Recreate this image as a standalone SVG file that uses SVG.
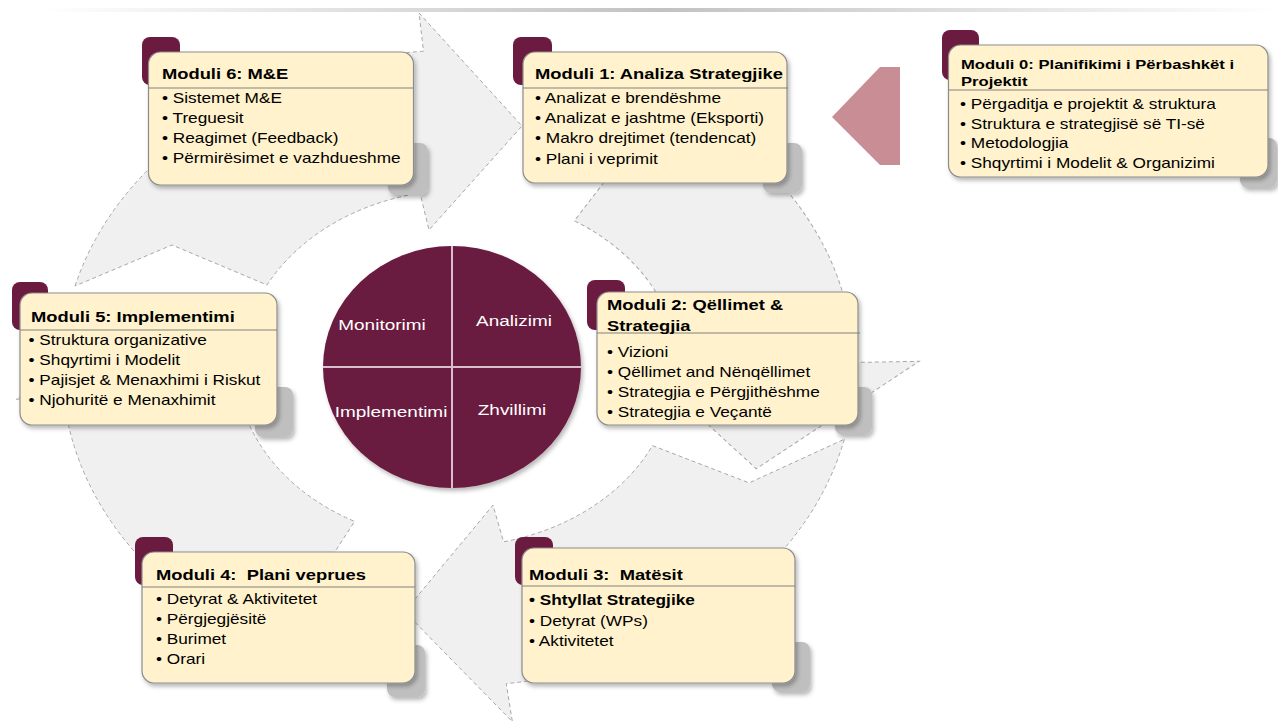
<svg xmlns="http://www.w3.org/2000/svg" width="1278" height="726" viewBox="0 0 1278 726">
<defs>
  <linearGradient id="topline" gradientUnits="userSpaceOnUse" x1="40" y1="0" x2="1278" y2="0">
    <stop offset="0" stop-color="#ffffff"/>
    <stop offset="0.5" stop-color="#c2c2c2"/>
    <stop offset="1" stop-color="#ffffff"/>
  </linearGradient>
  <filter id="sh" x="-10%" y="-10%" width="130%" height="140%">
    <feDropShadow dx="2" dy="3" stdDeviation="2" flood-color="#000" flood-opacity="0.28"/>
  </filter>
  <path id="arc" d="M-307.6,-82 A318,318 0 0 1 -27.7,-316.8 L-31.3,-355 L51.4,-242 L-23.3,-138 L-30.5,-175 A178,178 0 0 0 -153.4,-83 L-229.7,-123 Z" fill="#f0f0f0" stroke="#a8a8a8" stroke-width="1" stroke-dasharray="4 3" vector-effect="non-scaling-stroke"/>
  <path id="arcB" d="M-307.6,-82 A318,318 0 0 1 -27.7,-316.8 L-32.5,-369 L83.8,-246 L-23.3,-138 L-30.5,-175 A178,178 0 0 0 -153.4,-83 L-229.7,-123 Z" fill="#f0f0f0" stroke="#a8a8a8" stroke-width="1" stroke-dasharray="4 3" vector-effect="non-scaling-stroke"/>
</defs>
<style>
  .box{fill:#fff2cc;stroke:#8c8c8c;stroke-width:1.2}
  .tab{fill:#6b1a40}
  .gs{fill:#bfbfbf}
  .div{stroke:#808080;stroke-width:1.2}
  .t{font-family:"Liberation Sans",Arial,sans-serif;font-size:14.8px;font-weight:bold;fill:#000}
  .t0{font-family:"Liberation Sans",Arial,sans-serif;font-size:13.4px;font-weight:bold;fill:#000}
  .b{font-family:"Liberation Sans",Arial,sans-serif;font-size:13.9px;fill:#000}
  .bb{font-weight:bold}
  .c{font-family:"Liberation Sans",Arial,sans-serif;font-size:15.3px;fill:#fff;text-anchor:middle}
</style>
<rect width="1278" height="726" fill="#ffffff"/>
<rect x="40" y="8" width="1238" height="4" fill="url(#topline)"/>

<g id="connectors">
  <g transform="translate(458,368) scale(1.245,1)">
    <use href="#arc"/>
    <use href="#arcB" transform="rotate(94)"/>
    <use href="#arc" transform="rotate(178)"/>
    <use href="#arc" transform="rotate(270)"/>
  </g>
  <polygon points="832,117 880,67 900,67 900,165 880,165" fill="#c98d95"/>
</g>

<g id="center">
  <ellipse cx="452" cy="367" rx="129" ry="121" fill="#6a1a40" filter="url(#sh)"/>
  <line x1="452" y1="246" x2="452" y2="488" stroke="#d9bfcb" stroke-width="2"/>
  <line x1="323" y1="367" x2="581" y2="367" stroke="#d9bfcb" stroke-width="2"/>
  <g transform="translate(382,0) scale(1.24,1)"><text class="c" x="0" y="330">Monitorimi</text></g>
  <g transform="translate(514,0) scale(1.24,1)"><text class="c" x="0" y="326">Analizimi</text></g>
  <g transform="translate(391,0) scale(1.24,1)"><text class="c" x="0" y="417">Implementimi</text></g>
  <g transform="translate(512,0) scale(1.24,1)"><text class="c" x="0" y="415">Zhvillimi</text></g>
</g>

<g id="m6">
  <rect class="tab" x="142" y="37" width="38" height="48" rx="8"/>
  <rect class="gs" x="388" y="143" width="40" height="52" rx="8" filter="url(#sh)"/>
  <rect class="box" x="148.5" y="52" width="265" height="133" rx="12" filter="url(#sh)"/>
  <line class="div" x1="148.5" y1="88" x2="413.5" y2="88"/>
  <g transform="translate(162,0) scale(1.24,1)">
    <text class="t" x="0" y="79">Moduli 6: M&amp;E</text>
    <text class="b" x="0" y="103.5">• Sistemet M&amp;E</text>
    <text class="b" x="0" y="123.5">• Treguesit</text>
    <text class="b" x="0" y="143.5">• Reagimet (Feedback)</text>
    <text class="b" x="0" y="163.5">• Përmirësimet e vazhdueshme</text>
  </g>
</g>

<g id="m1">
  <rect class="tab" x="513" y="37" width="39" height="48" rx="8"/>
  <rect class="gs" x="763" y="143" width="39" height="50" rx="8" filter="url(#sh)"/>
  <rect class="box" x="523" y="52" width="264" height="131" rx="12" filter="url(#sh)"/>
  <line class="div" x1="523" y1="88" x2="788" y2="88"/>
  <g transform="translate(535,0) scale(1.24,1)">
    <text class="t" x="0" y="79">Moduli 1: Analiza Strategjike</text>
    <text class="b" x="0" y="103">• Analizat e brendëshme</text>
    <text class="b" x="0" y="123">• Analizat e jashtme (Eksporti)</text>
    <text class="b" x="0" y="143.5">• Makro drejtimet (tendencat)</text>
    <text class="b" x="0" y="164">• Plani i veprimit</text>
  </g>
</g>

<g id="m0">
  <rect class="tab" x="942" y="30" width="37" height="50" rx="8"/>
  <rect class="gs" x="1240" y="138" width="37" height="50" rx="8" filter="url(#sh)"/>
  <rect class="box" x="948.5" y="45" width="319.5" height="132" rx="12" filter="url(#sh)"/>
  <line class="div" x1="948.5" y1="90" x2="1268" y2="90"/>
  <g transform="translate(961,0) scale(1.24,1)">
    <text class="t0" x="0" y="69.5">Moduli 0: Planifikimi i Përbashkët i</text>
    <text class="t0" x="0" y="86">Projektit</text>
  </g>
  <g transform="translate(960,0) scale(1.24,1)">
    <text class="b" x="0" y="109.5">• Përgaditja e projektit &amp; struktura</text>
    <text class="b" x="0" y="129">• Struktura e strategjisë së TI-së</text>
    <text class="b" x="0" y="148.5">• Metodologjia</text>
    <text class="b" x="0" y="168">• Shqyrtimi i Modelit &amp; Organizimi</text>
  </g>
</g>

<g id="m5">
  <rect class="tab" x="12" y="282" width="36" height="48" rx="8"/>
  <rect class="gs" x="255" y="387" width="38" height="50" rx="8" filter="url(#sh)"/>
  <rect class="box" x="20" y="293" width="257" height="132" rx="12" filter="url(#sh)"/>
  <line class="div" x1="20" y1="330" x2="277" y2="330"/>
  <g transform="translate(31,0) scale(1.24,1)">
    <text class="t" x="0" y="322">Moduli 5: Implementimi</text>
    <text class="b" x="-2" y="345.5">• Struktura organizative</text>
    <text class="b" x="-2" y="365.5">• Shqyrtimi i Modelit</text>
    <text class="b" x="-2" y="385.5">• Pajisjet &amp; Menaxhimi i Riskut</text>
    <text class="b" x="-2" y="405.5">• Njohuritë e Menaxhimit</text>
  </g>
</g>

<g id="m2">
  <rect class="tab" x="587" y="280" width="38" height="50" rx="8"/>
  <rect class="gs" x="835" y="387" width="37" height="48" rx="8" filter="url(#sh)"/>
  <rect class="box" x="597" y="292" width="261" height="133" rx="12" filter="url(#sh)"/>
  <line class="div" x1="597" y1="333" x2="860" y2="333"/>
  <g transform="translate(607,0) scale(1.24,1)">
    <text class="t" x="0" y="310.5">Moduli 2: Qëllimet &amp;</text>
    <text class="t" x="0" y="331.5">Strategjia</text>
    <text class="b" x="0" y="357.5">• Vizioni</text>
    <text class="b" x="0" y="377.5">• Qëllimet and Nënqëllimet</text>
    <text class="b" x="0" y="397.5">• Strategjia e Përgjithëshme</text>
    <text class="b" x="0" y="417.5">• Strategjia e Veçantë</text>
  </g>
</g>

<g id="m4">
  <rect class="tab" x="135" y="537" width="38" height="48" rx="8"/>
  <rect class="gs" x="387" y="645" width="38" height="52" rx="8" filter="url(#sh)"/>
  <rect class="box" x="142" y="552" width="273" height="131" rx="12" filter="url(#sh)"/>
  <line class="div" x1="142" y1="587" x2="415" y2="587"/>
  <g transform="translate(156,0) scale(1.24,1)">
    <text class="t" x="0" y="580" xml:space="preserve">Moduli 4:  Plani veprues</text>
    <text class="b" x="0" y="604.5">• Detyrat &amp; Aktivitetet</text>
    <text class="b" x="0" y="624.5">• Përgjegjësitë</text>
    <text class="b" x="0" y="644.5">• Burimet</text>
    <text class="b" x="0" y="664.5">• Orari</text>
  </g>
</g>

<g id="m3">
  <rect class="tab" x="515" y="537" width="38" height="48" rx="8"/>
  <rect class="gs" x="772" y="642" width="38" height="50" rx="8" filter="url(#sh)"/>
  <rect class="box" x="522" y="548" width="273" height="135" rx="12" filter="url(#sh)"/>
  <line class="div" x1="522" y1="586" x2="795" y2="586"/>
  <g transform="translate(529,0) scale(1.24,1)">
    <text class="t" x="0" y="580.5" xml:space="preserve">Moduli 3:  Matësit</text>
    <text class="b bb" x="0" y="605.5">• Shtyllat Strategjike</text>
    <text class="b" x="0" y="626">• Detyrat (WPs)</text>
    <text class="b" x="0" y="646">• Aktivitetet</text>
  </g>
</g>
</svg>
